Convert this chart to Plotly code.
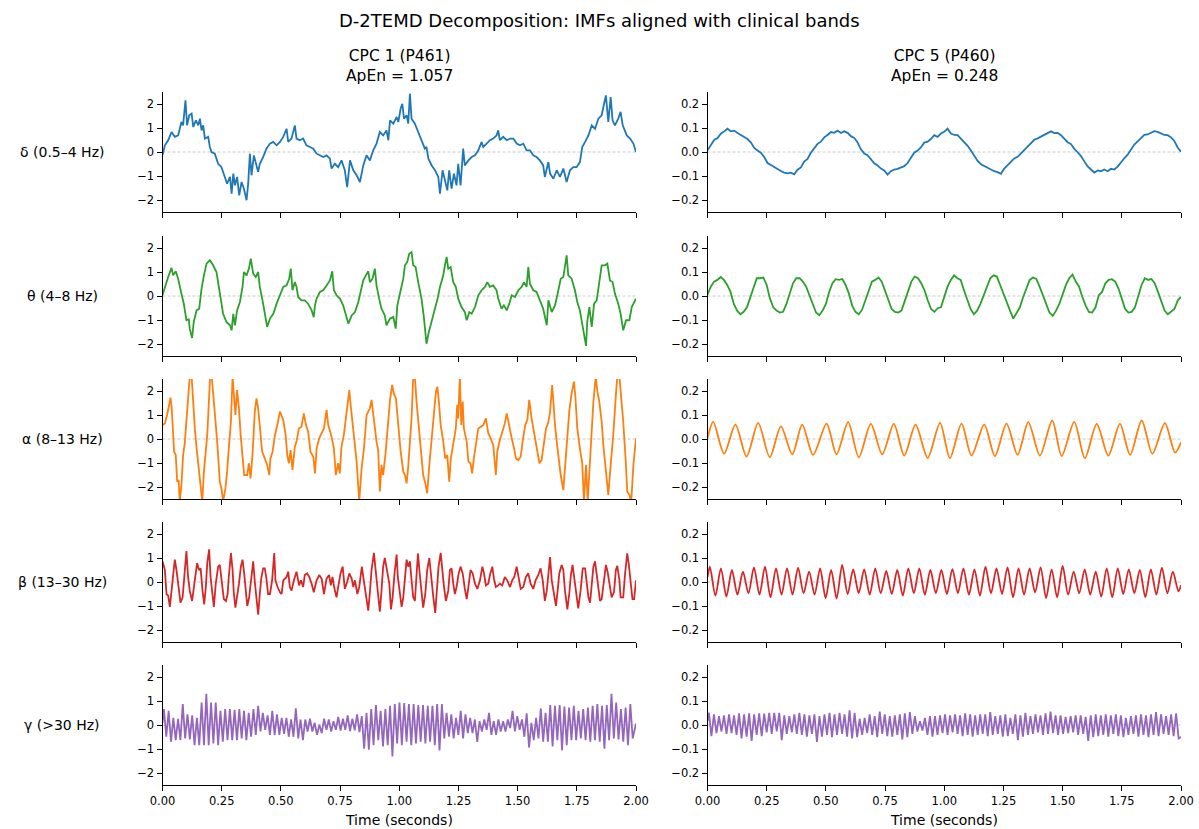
import numpy as np
import plotly.graph_objects as go

# ---------------- text / categories ----------------
TITLE = "D-2TEMD Decomposition: IMFs aligned with clinical bands"
COL_TITLES = ["CPC 1 (P461)<br>ApEn = 1.057", "CPC 5 (P460)<br>ApEn = 0.248"]
BANDS = ["δ (0.5–4 Hz)", "θ (4–8 Hz)", "α (8–13 Hz)", "β (13–30 Hz)", "γ (>30 Hz)"]
COLORS = ["#1f77b4", "#2ca02c", "#ff7f0e", "#d62728", "#9467bd"]
X_LABEL = "Time (seconds)"
X_TICKS = [0.0, 0.25, 0.5, 0.75, 1.0, 1.25, 1.5, 1.75, 2.0]
X_TICK_TEXT = ["0.00", "0.25", "0.50", "0.75", "1.00", "1.25", "1.50", "1.75", "2.00"]
Y_TICKS_LEFT = [-2, -1, 0, 1, 2]
Y_TICK_TEXT_LEFT = ["−2", "−1", "0", "1", "2"]
Y_TICKS_RIGHT = [-0.2, -0.1, 0.0, 0.1, 0.2]
Y_TICK_TEXT_RIGHT = ["−0.2", "−0.1", "0.0", "0.1", "0.2"]
Y_RANGE_LEFT = [-2.5, 2.5]
Y_RANGE_RIGHT = [-0.25, 0.25]
T_RANGE = [0.0, 2.0]

# ---------------- CPC 1 (left column) : (time s, amplitude) ----------------
delta_left = [(0.000,-0.14),(0.010,0.28),(0.024,0.49),(0.038,0.83),(0.052,0.63),(0.066,0.69),(0.080,1.25),(0.087,1.11),(0.097,2.15),(0.104,1.11),(0.113,1.53),(0.123,1.60),(0.130,1.04),(0.141,1.32),(0.151,1.11),(0.158,1.39),(0.165,0.90),(0.172,1.11),(0.179,0.56),(0.193,0.63),(0.200,0.21),(0.207,0.00),(0.221,-0.07),(0.235,-0.49),(0.249,-0.63),(0.263,-1.04),(0.273,-1.32),(0.285,-1.04),(0.292,-1.74),(0.299,-0.90),(0.306,-1.39),(0.315,-1.04),(0.324,-1.81),(0.334,-1.25),(0.344,-1.53),(0.355,-2.01),(0.362,-1.32),(0.369,-0.07),(0.376,-0.97),(0.386,-0.14),(0.394,-0.42),(0.404,-0.83),(0.411,-0.49),(0.425,-0.21),(0.439,0.14),(0.454,0.35),(0.468,0.42),(0.482,0.28),(0.496,0.42),(0.510,0.63),(0.524,0.97),(0.531,0.42),(0.545,0.56),(0.559,1.11),(0.566,0.56),(0.580,0.49),(0.594,0.56),(0.608,0.28),(0.623,0.21),(0.637,0.14),(0.651,-0.07),(0.665,-0.14),(0.679,-0.21),(0.693,-0.14),(0.707,-0.28),(0.714,-0.69),(0.728,-0.49),(0.742,-0.63),(0.756,-0.35),(0.770,-0.76),(0.780,-1.46),(0.792,-0.35),(0.806,-0.76),(0.820,-0.97),(0.834,-1.25),(0.848,-0.56),(0.862,-0.14),(0.876,-0.35),(0.890,0.07),(0.904,0.35),(0.918,0.83),(0.932,0.69),(0.946,0.90),(0.954,0.49),(0.961,1.32),(0.975,1.18),(0.989,1.46),(0.996,1.25),(1.006,1.81),(1.013,2.01),(1.020,1.39),(1.031,1.53),(1.038,1.18),(1.045,2.43),(1.052,1.39),(1.066,1.18),(1.080,0.83),(1.094,0.49),(1.108,0.14),(1.115,0.21),(1.123,-0.28),(1.137,-0.56),(1.151,-0.76),(1.165,-1.04),(1.172,-1.74),(1.183,-0.76),(1.193,-1.18),(1.203,-1.60),(1.211,-0.76),(1.221,-1.53),(1.231,-0.90),(1.242,-1.39),(1.249,-0.49),(1.259,-1.39),(1.270,0.14),(1.277,-0.56),(1.292,-0.35),(1.306,-0.21),(1.320,-0.14),(1.334,0.07),(1.348,0.42),(1.355,0.21),(1.369,0.35),(1.383,0.49),(1.397,0.56),(1.411,0.69),(1.418,0.90),(1.425,0.49),(1.439,0.63),(1.454,0.49),(1.468,0.56),(1.482,0.56),(1.496,0.35),(1.510,0.28),(1.524,0.35),(1.538,0.07),(1.552,0.07),(1.566,-0.14),(1.580,-0.21),(1.594,-0.35),(1.608,-0.56),(1.615,-1.04),(1.630,-0.42),(1.637,-0.90),(1.651,-1.11),(1.665,-0.76),(1.679,-1.04),(1.693,-0.69),(1.707,-1.25),(1.721,-0.76),(1.735,-0.63),(1.749,-0.63),(1.763,-0.42),(1.773,0.21),(1.785,0.42),(1.799,0.69),(1.813,1.11),(1.827,0.97),(1.841,1.39),(1.855,1.53),(1.865,2.01),(1.873,2.36),(1.883,1.25),(1.893,2.29),(1.901,1.32),(1.911,1.11),(1.925,1.39),(1.935,1.67),(1.944,1.11),(1.954,0.83),(1.961,0.69),(1.975,0.56),(1.989,0.35),(2.000,0.00)]

theta_left = [(0.000,0.03),(0.010,0.38),(0.024,0.79),(0.038,1.17),(0.045,0.86),(0.056,1.03),(0.066,0.72),(0.080,0.10),(0.090,-0.32),(0.101,-1.01),(0.111,-0.97),(0.115,-1.36),(0.125,-1.75),(0.132,-1.08),(0.144,-0.60),(0.155,-0.53),(0.165,0.31),(0.175,0.86),(0.186,1.35),(0.200,1.49),(0.214,1.28),(0.228,1.00),(0.235,0.58),(0.245,-0.11),(0.256,-0.74),(0.270,-1.08),(0.285,-1.22),(0.292,-1.43),(0.299,-0.74),(0.306,-1.22),(0.315,-0.60),(0.327,-0.25),(0.338,0.38),(0.344,1.00),(0.355,0.86),(0.365,1.14),(0.373,1.56),(0.383,0.93),(0.394,0.79),(0.404,1.00),(0.411,0.38),(0.425,-0.32),(0.432,-0.67),(0.442,-1.29),(0.454,-0.94),(0.468,-0.74),(0.482,-0.32),(0.496,0.03),(0.510,0.38),(0.524,0.44),(0.535,0.72),(0.542,1.14),(0.549,0.24),(0.559,0.58),(0.566,0.38),(0.573,-0.04),(0.587,-0.18),(0.601,-0.18),(0.615,-0.32),(0.630,-0.60),(0.639,-0.88),(0.644,-0.39),(0.651,-0.11),(0.665,0.17),(0.679,0.24),(0.693,0.44),(0.707,0.65),(0.717,1.03),(0.724,0.24),(0.735,0.03),(0.749,-0.11),(0.763,-0.39),(0.777,-0.81),(0.785,-1.15),(0.799,-0.81),(0.813,-0.67),(0.827,-0.25),(0.834,0.03),(0.848,0.65),(0.859,0.86),(0.869,1.03),(0.876,0.58),(0.887,0.72),(0.897,1.14),(0.904,0.44),(0.915,-0.11),(0.925,-0.53),(0.939,-0.81),(0.946,-1.22),(0.961,-0.94),(0.975,-0.88),(0.985,-1.36),(0.992,-0.39),(1.006,0.24),(1.017,0.72),(1.024,1.28),(1.034,1.42),(1.042,1.76),(1.052,1.83),(1.059,1.28),(1.069,1.21),(1.080,0.58),(1.094,-0.11),(1.104,-0.88),(1.115,-1.99),(1.125,-1.50),(1.137,-1.08),(1.151,-0.53),(1.162,-0.11),(1.172,0.38),(1.186,0.86),(1.193,1.28),(1.200,1.63),(1.207,1.14),(1.217,1.21),(1.228,0.58),(1.239,0.38),(1.249,-0.11),(1.263,-0.46),(1.277,-0.67),(1.285,-1.01),(1.296,-0.67),(1.306,-0.74),(1.320,-0.46),(1.334,0.03),(1.348,0.24),(1.362,0.38),(1.372,0.58),(1.383,0.38),(1.397,0.44),(1.411,0.24),(1.418,-0.11),(1.432,-0.53),(1.442,-0.39),(1.454,-0.60),(1.465,-0.32),(1.475,0.03),(1.489,-0.04),(1.503,0.24),(1.517,0.38),(1.527,0.58),(1.538,0.38),(1.545,1.21),(1.552,0.51),(1.566,0.24),(1.580,0.17),(1.594,-0.18),(1.608,-0.53),(1.623,-1.22),(1.630,-0.18),(1.644,-0.67),(1.658,-0.39),(1.672,0.24),(1.682,0.72),(1.693,0.79),(1.707,1.69),(1.714,0.86),(1.728,0.72),(1.742,0.24),(1.752,-0.25),(1.763,-0.60),(1.777,-1.43),(1.789,-2.08),(1.794,-1.08),(1.803,-0.46),(1.813,-1.29),(1.823,-0.32),(1.834,-0.18),(1.845,0.58),(1.855,1.28),(1.869,1.28),(1.879,1.35),(1.890,0.65),(1.901,0.58),(1.911,0.10),(1.925,-0.32),(1.935,-0.74),(1.946,-1.43),(1.958,-1.01),(1.972,-1.01),(1.982,-0.46),(2.000,-0.11)]

alpha_left = [(0.000,0.58),(0.010,0.65),(0.020,1.03),(0.028,1.42),(0.034,1.72),(0.039,1.28),(0.045,0.31),(0.049,-0.53),(0.056,-0.67),(0.062,-1.78),(0.068,-1.71),(0.073,-2.6),(0.080,-1.92),(0.087,-0.67),(0.094,-0.18),(0.101,0.86),(0.106,1.49),(0.111,2.39),(0.115,2.6),(0.123,2.6),(0.127,1.83),(0.132,1.28),(0.137,0.38),(0.144,-0.39),(0.155,-1.36),(0.162,-1.92),(0.168,-2.6),(0.175,-1.36),(0.183,-0.39),(0.189,0.17),(0.196,1.56),(0.201,2.6),(0.208,2.6),(0.214,1.97),(0.220,1.42),(0.224,0.72),(0.232,-0.25),(0.242,-1.78),(0.249,-2.06),(0.256,-2.6),(0.265,-2.11),(0.273,-1.36),(0.280,-0.39),(0.289,0.72),(0.296,2.6),(0.301,1.97),(0.308,1.00),(0.315,2.04),(0.323,1.28),(0.330,0.17),(0.338,-0.67),(0.345,-1.50),(0.358,-1.50),(0.365,-1.01),(0.372,-1.64),(0.380,-0.67),(0.390,1.14),(0.397,1.69),(0.404,1.28),(0.411,0.44),(0.421,-0.53),(0.432,-0.81),(0.442,-1.08),(0.451,-1.50),(0.456,-0.81),(0.465,-0.53),(0.475,0.17),(0.485,0.58),(0.496,1.14),(0.510,0.79),(0.520,0.17),(0.527,-0.67),(0.534,-1.01),(0.541,-0.46),(0.549,-1.29),(0.559,-0.32),(0.566,-0.11),(0.576,0.44),(0.587,0.51),(0.597,1.07),(0.606,0.58),(0.615,0.31),(0.625,-0.53),(0.637,-0.74),(0.644,-1.43),(0.651,-0.39),(0.662,0.03),(0.672,0.24),(0.682,0.44),(0.693,1.21),(0.700,0.58),(0.714,0.10),(0.724,-0.39),(0.732,-1.50),(0.742,-1.01),(0.749,-1.43),(0.756,-0.32),(0.766,0.17),(0.775,0.86),(0.780,1.21),(0.789,2.04),(0.794,1.49),(0.803,0.58),(0.811,-0.11),(0.820,-0.94),(0.831,-2.6),(0.841,-1.22),(0.851,-0.39),(0.862,1.00),(0.869,1.14),(0.876,1.28),(0.883,1.63),(0.893,0.72),(0.904,-0.11),(0.911,-0.46),(0.918,-2.19),(0.925,-1.08),(0.932,-1.50),(0.942,-0.60),(0.951,0.58),(0.961,1.63),(0.970,2.25),(0.977,1.90),(0.986,1.69),(0.996,0.58),(1.006,-0.53),(1.017,-1.36),(1.024,-1.50),(1.031,-1.85),(1.038,-1.15),(1.045,-0.11),(1.052,0.86),(1.059,2.6),(1.066,2.6),(1.073,1.56),(1.082,0.58),(1.090,-0.39),(1.101,-1.50),(1.110,-1.85),(1.118,-2.26),(1.127,-1.08),(1.137,-0.11),(1.146,1.00),(1.155,1.97),(1.161,2.18),(1.168,1.49),(1.175,0.58),(1.186,-0.11),(1.194,-0.81),(1.203,-0.67),(1.211,-1.78),(1.218,-0.81),(1.228,-0.18),(1.239,0.44),(1.245,1.42),(1.249,0.86),(1.256,2.6),(1.262,0.58),(1.268,1.56),(1.273,0.44),(1.285,-0.11),(1.292,-0.94),(1.301,-1.01),(1.308,-1.43),(1.315,-0.81),(1.324,-0.25),(1.334,0.44),(1.344,0.51),(1.355,0.58),(1.366,0.86),(1.376,0.24),(1.386,0.03),(1.397,-0.25),(1.408,-1.50),(1.414,-0.53),(1.425,-0.04),(1.437,0.31),(1.446,0.65),(1.454,1.07),(1.465,0.44),(1.475,0.03),(1.485,-0.39),(1.493,-0.81),(1.503,-0.88),(1.513,-0.74),(1.521,-0.11),(1.532,0.58),(1.541,0.79),(1.549,1.63),(1.559,0.86),(1.569,0.31),(1.580,-0.25),(1.592,-1.01),(1.601,-0.88),(1.611,-0.25),(1.620,0.44),(1.630,0.72),(1.637,1.14),(1.646,2.25),(1.654,0.86),(1.658,0.58),(1.665,-0.11),(1.672,-0.81),(1.682,-1.50),(1.693,-2.13),(1.700,-1.22),(1.707,0.03),(1.718,1.14),(1.728,1.90),(1.738,2.39),(1.744,1.76),(1.752,0.44),(1.763,-0.39),(1.773,-1.01),(1.780,-2.6),(1.789,-1.08),(1.796,-2.6),(1.803,-1.50),(1.808,-0.39),(1.820,1.56),(1.830,2.6),(1.837,1.97),(1.845,1.56),(1.855,0.72),(1.862,-0.25),(1.873,-1.50),(1.883,-2.33),(1.893,-1.08),(1.904,0.17),(1.915,1.83),(1.921,2.6),(1.930,2.6),(1.937,1.83),(1.946,0.72),(1.956,-0.81),(1.963,-2.19),(1.972,-2.33),(1.980,-2.6),(1.989,-1.08),(2.000,0.03)]

beta_left = [(0.000,0.86),(0.010,0.50),(0.017,-0.50),(0.024,-0.57),(0.031,-1.04),(0.039,-0.21),(0.045,0.50),(0.052,0.93),(0.059,0.50),(0.066,-0.07),(0.076,-0.86),(0.085,-0.64),(0.093,0.36),(0.101,1.29),(0.108,0.21),(0.115,-0.36),(0.125,-0.79),(0.135,-0.07),(0.146,0.79),(0.154,0.50),(0.161,0.57),(0.169,-0.36),(0.176,-0.93),(0.183,-0.21),(0.189,0.79),(0.197,1.36),(0.203,0.21),(0.211,-0.50),(0.217,-1.04),(0.225,-0.07),(0.235,0.64),(0.242,0.71),(0.252,-0.07),(0.259,-0.71),(0.268,-0.79),(0.275,-0.50),(0.280,0.21),(0.289,1.21),(0.296,0.50),(0.301,-0.43),(0.308,-1.07),(0.315,-0.64),(0.323,-0.07),(0.331,0.64),(0.338,0.93),(0.345,0.36),(0.352,-0.50),(0.358,-1.00),(0.366,-0.64),(0.373,0.07),(0.383,0.86),(0.390,0.00),(0.397,-0.71),(0.404,-1.36),(0.411,-0.50),(0.417,0.14),(0.425,0.57),(0.432,0.57),(0.439,0.14),(0.446,-0.50),(0.454,-0.50),(0.463,0.07),(0.472,1.21),(0.477,0.07),(0.486,-0.21),(0.496,-0.43),(0.503,-0.50),(0.510,0.07),(0.524,0.21),(0.531,0.43),(0.538,-0.21),(0.545,-0.36),(0.555,0.07),(0.566,0.43),(0.577,-0.14),(0.585,0.07),(0.594,-0.21),(0.601,0.29),(0.611,0.36),(0.620,0.21),(0.630,-0.07),(0.639,-0.43),(0.651,0.07),(0.662,0.29),(0.672,0.14),(0.682,-0.50),(0.693,0.14),(0.704,0.29),(0.711,-0.14),(0.718,0.21),(0.725,-0.21),(0.735,-0.64),(0.742,-0.21),(0.752,0.36),(0.761,0.64),(0.770,-0.29),(0.780,0.00),(0.789,0.36),(0.799,0.14),(0.806,-0.21),(0.813,0.07),(0.823,-0.50),(0.831,-0.21),(0.842,0.64),(0.848,0.21),(0.855,-0.29),(0.862,-0.71),(0.869,-1.19),(0.876,-0.43),(0.883,0.50),(0.893,1.21),(0.900,0.43),(0.910,-0.43),(0.918,-1.24),(0.925,-0.36),(0.932,0.64),(0.939,1.00),(0.949,0.50),(0.958,-0.07),(0.965,-1.14),(0.972,-0.64),(0.980,0.36),(0.989,1.14),(0.994,0.21),(1.003,-0.50),(1.010,-1.04),(1.017,-0.64),(1.024,0.00),(1.031,0.93),(1.038,0.64),(1.045,0.86),(1.052,0.07),(1.059,-0.64),(1.066,-0.79),(1.073,0.21),(1.079,1.19),(1.087,0.29),(1.094,-0.50),(1.101,-1.07),(1.110,-0.50),(1.118,0.50),(1.127,1.00),(1.134,0.21),(1.144,-0.64),(1.152,-1.29),(1.158,-0.36),(1.166,0.64),(1.175,1.21),(1.180,0.64),(1.189,-0.21),(1.197,-0.79),(1.207,-0.36),(1.214,0.50),(1.221,0.57),(1.228,-0.07),(1.235,-0.50),(1.242,-0.21),(1.251,0.36),(1.259,0.64),(1.268,0.36),(1.277,-0.29),(1.285,-0.71),(1.292,-0.21),(1.301,0.50),(1.310,0.36),(1.320,-0.07),(1.330,-0.29),(1.341,0.07),(1.351,0.64),(1.358,0.36),(1.366,-0.14),(1.376,-0.07),(1.383,0.29),(1.393,0.64),(1.400,0.14),(1.408,-0.21),(1.418,-0.14),(1.425,-0.07),(1.435,-0.14),(1.446,0.21),(1.456,0.07),(1.468,-0.21),(1.477,0.07),(1.486,0.21),(1.496,0.64),(1.504,0.21),(1.513,-0.29),(1.524,-0.21),(1.535,0.21),(1.545,0.36),(1.555,-0.07),(1.566,-0.29),(1.576,0.07),(1.587,0.29),(1.597,0.57),(1.606,0.07),(1.615,-0.79),(1.623,-0.36),(1.630,0.29),(1.637,1.04),(1.644,0.07),(1.654,-0.50),(1.662,-1.00),(1.669,-0.36),(1.676,0.36),(1.686,0.71),(1.693,0.50),(1.700,-0.36),(1.710,-1.14),(1.718,-0.50),(1.725,0.29),(1.732,0.71),(1.739,0.21),(1.749,-0.64),(1.756,-1.10),(1.766,-0.36),(1.775,0.57),(1.785,0.57),(1.792,-0.07),(1.799,-0.64),(1.806,-0.86),(1.813,-0.07),(1.820,0.64),(1.827,0.86),(1.834,0.36),(1.841,-0.36),(1.848,-0.79),(1.855,-0.71),(1.865,0.21),(1.873,0.71),(1.880,0.43),(1.890,-0.21),(1.897,-0.64),(1.907,-0.43),(1.915,0.50),(1.921,0.67),(1.930,0.07),(1.935,-0.64),(1.946,-0.64),(1.954,0.36),(1.963,1.19),(1.969,0.79),(1.977,-0.07),(1.985,-0.71),(1.992,-0.71),(2.000,0.07)]

# gamma: successive local maxima / minima, evenly spaced between first peak and last trough
gamma_left_peaks = [0.66,0.59,0.30,0.26,0.87,0.44,0.40,0.30,0.94,1.30,0.94,0.94,0.59,0.66,0.66,0.63,0.66,0.59,0.51,0.66,0.80,0.51,0.40,0.59,0.44,0.30,0.30,0.23,0.69,0.23,0.23,0.26,0.09,0.01,0.26,0.23,0.16,0.34,0.26,0.40,0.26,0.44,0.37,0.51,0.66,0.83,0.59,0.66,0.80,0.87,0.94,0.91,0.87,0.87,0.83,0.83,0.80,0.80,0.87,0.87,0.51,0.44,0.30,0.59,0.44,0.30,0.23,0.16,0.23,0.51,0.16,0.23,0.16,0.23,0.59,0.37,0.23,0.49,0.09,0.30,0.69,0.51,0.83,0.80,0.83,0.77,0.73,0.80,0.59,0.66,0.73,0.80,0.87,0.80,0.83,1.30,0.94,0.66,0.73,0.87]
gamma_left_troughs = [-0.49,-0.70,-0.63,-0.63,-0.56,-0.60,-0.84,-0.84,-0.84,-0.84,-0.77,-0.84,-0.70,-0.63,-0.63,-0.63,-0.56,-0.63,-0.49,-0.41,-0.27,-0.20,-0.41,-0.41,-0.41,-0.37,-0.49,-0.49,-0.56,-0.63,-0.27,-0.27,-0.41,-0.34,-0.20,-0.27,-0.20,-0.23,-0.20,-0.25,-0.22,-0.30,-0.99,-1.03,-0.84,-0.63,-0.89,-0.84,-1.31,-0.77,-0.84,-0.70,-0.84,-0.77,-0.70,-0.77,-0.70,-0.84,-1.06,-0.56,-0.49,-0.56,-0.41,-0.56,-0.34,-0.34,-0.70,-0.27,-0.20,-0.41,-0.41,-0.27,-0.27,-0.13,-0.27,-0.20,-0.49,-0.94,-0.63,-0.56,-0.70,-0.70,-0.89,-0.63,-1.06,-0.84,-0.63,-0.63,-0.56,-0.63,-0.70,-0.63,-0.70,-0.99,-0.63,-0.56,-0.60,-0.70,-0.84,-0.56]
gamma_left_span = (0.006, 1.986)
gamma_left_ends = (0.10, 0.06)

# ---------------- CPC 5 (right column) ----------------
# delta and theta: evenly sampled over 0-2 s
delta_right = [0.007,0.026,0.050,0.058,0.076,0.086,0.097,0.086,0.089,0.079,0.071,0.064,0.054,0.040,0.017,0.006,-0.003,-0.021,-0.046,-0.054,-0.063,-0.071,-0.079,-0.086,-0.089,-0.086,-0.093,-0.074,-0.064,-0.040,-0.029,-0.003,0.017,0.034,0.043,0.061,0.071,0.083,0.080,0.089,0.079,0.086,0.080,0.066,0.059,0.040,0.011,-0.006,-0.013,-0.031,-0.047,-0.056,-0.069,-0.077,-0.094,-0.080,-0.073,-0.070,-0.066,-0.059,-0.046,-0.026,-0.003,0.006,0.019,0.039,0.043,0.054,0.070,0.063,0.077,0.084,0.097,0.077,0.071,0.070,0.056,0.041,0.026,0.006,-0.016,-0.037,-0.051,-0.059,-0.066,-0.073,-0.080,-0.084,-0.091,-0.069,-0.056,-0.041,-0.027,-0.020,-0.006,0.009,0.023,0.037,0.051,0.057,0.064,0.071,0.080,0.086,0.079,0.080,0.070,0.056,0.041,0.033,0.013,-0.001,-0.017,-0.039,-0.060,-0.073,-0.086,-0.077,-0.080,-0.073,-0.080,-0.070,-0.073,-0.061,-0.041,-0.026,-0.011,0.010,0.031,0.044,0.059,0.071,0.073,0.080,0.087,0.084,0.077,0.071,0.070,0.061,0.046,0.019,0.001]

theta_right = [0.006,0.039,0.060,0.067,0.079,0.067,0.046,0.017,-0.033,-0.061,-0.076,-0.066,-0.047,-0.004,0.039,0.074,0.074,0.077,0.046,-0.011,-0.047,-0.061,-0.069,-0.066,-0.033,0.010,0.053,0.074,0.074,0.060,0.039,0.003,-0.033,-0.069,-0.080,-0.061,-0.033,0.017,0.053,0.070,0.067,0.071,0.046,0.010,-0.040,-0.066,-0.076,-0.057,-0.019,0.024,0.060,0.067,0.077,0.060,0.024,-0.019,-0.054,-0.066,-0.069,-0.061,-0.019,0.024,0.060,0.081,0.074,0.053,0.024,-0.019,-0.054,-0.066,-0.051,-0.047,-0.004,0.039,0.067,0.086,0.074,0.067,0.024,-0.019,-0.054,-0.076,-0.061,-0.033,0.003,0.046,0.074,0.086,0.081,0.046,0.010,-0.033,-0.061,-0.094,-0.069,-0.047,-0.004,0.031,0.067,0.077,0.071,0.039,0.003,-0.040,-0.069,-0.083,-0.061,-0.033,0.010,0.046,0.074,0.089,0.060,0.039,-0.004,-0.040,-0.066,-0.069,-0.047,0.003,0.017,0.053,0.067,0.070,0.060,0.031,-0.011,-0.054,-0.069,-0.066,-0.047,-0.004,0.046,0.074,0.067,0.071,0.053,0.017,-0.026,-0.061,-0.076,-0.066,-0.054,-0.019,-0.004]

alpha_right = [(0.000,0.003),(0.024,0.071),(0.070,-0.061),(0.118,0.060),(0.165,-0.073),(0.214,0.067),(0.263,-0.076),(0.310,0.053),(0.358,-0.064),(0.400,0.060),(0.446,-0.066),(0.503,0.064),(0.545,-0.064),(0.594,0.070),(0.639,-0.076),(0.690,0.063),(0.738,-0.064),(0.787,0.063),(0.831,-0.069),(0.879,0.060),(0.930,-0.079),(0.982,0.067),(1.024,-0.080),(1.073,0.064),(1.115,-0.069),(1.169,0.060),(1.214,-0.071),(1.263,0.064),(1.310,-0.066),(1.355,0.070),(1.404,-0.069),(1.456,0.077),(1.496,-0.071),(1.549,0.071),(1.594,-0.080),(1.644,0.063),(1.693,-0.069),(1.742,0.063),(1.785,-0.066),(1.834,0.077),(1.879,-0.061),(1.932,0.066),(1.975,-0.057),(2.000,-0.014)]

beta_right_peaks = [0.064,0.057,0.050,0.043,0.061,0.064,0.057,0.057,0.060,0.043,0.057,0.050,0.071,0.053,0.053,0.057,0.046,0.050,0.057,0.057,0.050,0.050,0.054,0.057,0.053,0.064,0.057,0.061,0.057,0.057,0.061,0.053,0.067,0.043,0.053,0.043,0.057,0.057,0.053,0.050,0.053,0.060,0.043]
beta_right_troughs = [-0.057,-0.061,-0.053,-0.047,-0.053,-0.064,-0.053,-0.053,-0.047,-0.053,-0.067,-0.069,-0.050,-0.047,-0.053,-0.047,-0.050,-0.057,-0.047,-0.053,-0.047,-0.050,-0.047,-0.053,-0.057,-0.047,-0.050,-0.064,-0.053,-0.043,-0.067,-0.064,-0.053,-0.047,-0.053,-0.061,-0.064,-0.050,-0.047,-0.064,-0.053,-0.047,-0.039]
beta_right_span = (0.010, 1.989)
beta_right_ends = (0.020, -0.014)

gamma_right_peaks = [0.051,0.044,0.037,0.040,0.044,0.040,0.049,0.044,0.049,0.044,0.049,0.047,0.051,0.051,0.051,0.040,0.037,0.044,0.051,0.044,0.040,0.044,0.037,0.044,0.051,0.044,0.051,0.044,0.061,0.051,0.026,0.030,0.044,0.037,0.056,0.044,0.037,0.040,0.044,0.049,0.054,0.037,0.016,0.030,0.037,0.037,0.040,0.044,0.040,0.044,0.040,0.049,0.044,0.040,0.044,0.044,0.054,0.037,0.040,0.044,0.030,0.044,0.040,0.051,0.037,0.044,0.040,0.049,0.056,0.040,0.040,0.034,0.037,0.040,0.040,0.034,0.040,0.044,0.040,0.044,0.040,0.044,0.040,0.030,0.037,0.040,0.044,0.040,0.044,0.054,0.044,0.037,0.044,0.049]
gamma_right_troughs = [-0.046,-0.034,-0.027,-0.037,-0.034,-0.041,-0.056,-0.049,-0.066,-0.041,-0.046,-0.031,-0.037,-0.027,-0.063,-0.037,-0.031,-0.037,-0.041,-0.049,-0.037,-0.070,-0.049,-0.041,-0.051,-0.041,-0.037,-0.049,-0.056,-0.051,-0.041,-0.034,-0.041,-0.051,-0.037,-0.046,-0.049,-0.041,-0.060,-0.051,-0.037,-0.027,-0.023,-0.041,-0.049,-0.041,-0.034,-0.041,-0.031,-0.037,-0.046,-0.041,-0.049,-0.041,-0.037,-0.046,-0.041,-0.037,-0.049,-0.046,-0.037,-0.063,-0.049,-0.041,-0.037,-0.031,-0.041,-0.037,-0.034,-0.041,-0.037,-0.034,-0.031,-0.041,-0.037,-0.066,-0.051,-0.046,-0.041,-0.049,-0.037,-0.046,-0.051,-0.041,-0.037,-0.049,-0.041,-0.051,-0.041,-0.046,-0.037,-0.041,-0.046,-0.056]
gamma_right_span = (0.006, 1.990)
gamma_right_ends = (0.016, -0.050)


# ---------------- helpers ----------------
def pairs(data):
    t, v = zip(*data)
    return np.array(t), np.array(v)


def even(values):
    return np.linspace(T_RANGE[0], T_RANGE[1], len(values)), np.array(values)


def extremes(peaks, troughs, span, ends):
    n = min(len(peaks), len(troughs))
    vals = np.empty(2 * n)
    vals[0::2] = peaks[:n]
    vals[1::2] = troughs[:n]
    t = np.linspace(span[0], span[1], 2 * n)
    t = np.concatenate([[T_RANGE[0]], t, [T_RANGE[1]]])
    vals = np.concatenate([[ends[0]], vals, [ends[1]]])
    return t, vals


left_series = [
    (pairs(delta_left), "linear"),
    (pairs(theta_left), "linear"),
    (pairs(alpha_left), "linear"),
    (pairs(beta_left), "linear"),
    (extremes(gamma_left_peaks, gamma_left_troughs, gamma_left_span, gamma_left_ends), "linear"),
]
right_series = [
    (even(delta_right), "linear"),
    (even(theta_right), "linear"),
    (pairs(alpha_right), "spline"),
    (extremes(beta_right_peaks, beta_right_troughs, beta_right_span, beta_right_ends), "spline"),
    (extremes(gamma_right_peaks, gamma_right_troughs, gamma_right_span, gamma_right_ends), "linear"),
]

# ---------------- layout geometry ----------------
W, H = 1199, 829
X_DOMAINS = [[162.5 / W, 636 / W], [707.5 / W, 1181 / W]]
ROW_PX = [(92, 212), (236, 356), (379, 499), (522, 642), (665, 785)]
Y_DOMAINS = [[1 - b / H, 1 - t / H] for t, b in ROW_PX]

FONT = "DejaVu Sans"
fig = go.Figure()
layout = {}
shapes = []
annotations = []

for r in range(5):
    for c in range(2):
        idx = r * 2 + c + 1
        sfx = "" if idx == 1 else str(idx)
        xa, ya = "x" + sfx, "y" + sfx
        (t, v), shape = (left_series if c == 0 else right_series)[r]
        fig.add_trace(go.Scatter(
            x=t, y=v, mode="lines", xaxis=xa, yaxis=ya,
            line=dict(color=COLORS[r], width=1.8, shape=shape, smoothing=0.8),
            showlegend=False, hoverinfo="skip"))
        common = dict(ticks="outside", ticklen=5, tickwidth=1, tickcolor="black",
                      showline=True, linecolor="black", linewidth=1,
                      showgrid=False, zeroline=False, fixedrange=True, automargin=False,
                      tickfont=dict(family=FONT, size=11.5, color="black"))
        layout["xaxis" + sfx] = dict(
            domain=X_DOMAINS[c], range=T_RANGE, anchor=ya,
            tickvals=X_TICKS, ticktext=X_TICK_TEXT, showticklabels=(r == 4), **common)
        layout["yaxis" + sfx] = dict(
            domain=Y_DOMAINS[r], range=Y_RANGE_LEFT if c == 0 else Y_RANGE_RIGHT, anchor=xa,
            tickvals=Y_TICKS_LEFT if c == 0 else Y_TICKS_RIGHT,
            ticktext=Y_TICK_TEXT_LEFT if c == 0 else Y_TICK_TEXT_RIGHT, **common)
        shapes.append(dict(type="line", xref=xa + " domain", yref=ya, x0=0, x1=1, y0=0, y1=0,
                           line=dict(color="#bbbbbb", width=0.8, dash="3px,2px"), layer="below"))
    annotations.append(dict(text=BANDS[r], x=62 / W, y=(Y_DOMAINS[r][0] + Y_DOMAINS[r][1]) / 2,
                            xref="paper", yref="paper", showarrow=False, xanchor="center",
                            yanchor="middle", font=dict(family=FONT, size=14, color="black")))

for c in range(2):
    cx = (X_DOMAINS[c][0] + X_DOMAINS[c][1]) / 2
    annotations.append(dict(text=COL_TITLES[c], x=cx, y=1 - 66 / H, xref="paper", yref="paper",
                            showarrow=False, xanchor="center", yanchor="middle",
                            font=dict(family=FONT, size=15.5, color="black")))
    annotations.append(dict(text=X_LABEL, x=cx, y=1 - 820 / H, xref="paper", yref="paper",
                            showarrow=False, xanchor="center", yanchor="middle",
                            font=dict(family=FONT, size=14, color="black")))

annotations.append(dict(text=TITLE, x=0.5, y=1 - 20 / H, xref="paper", yref="paper",
                        showarrow=False, xanchor="center", yanchor="middle",
                        font=dict(family=FONT, size=18, color="black")))

fig.update_layout(template="none", width=W, height=H, autosize=False,
                  margin=dict(l=0, r=0, t=0, b=0, pad=0),
                  paper_bgcolor="white", plot_bgcolor="white",
                  shapes=shapes, annotations=annotations, **layout)

fig.write_html("out.html", config={"displayModeBar": False})
